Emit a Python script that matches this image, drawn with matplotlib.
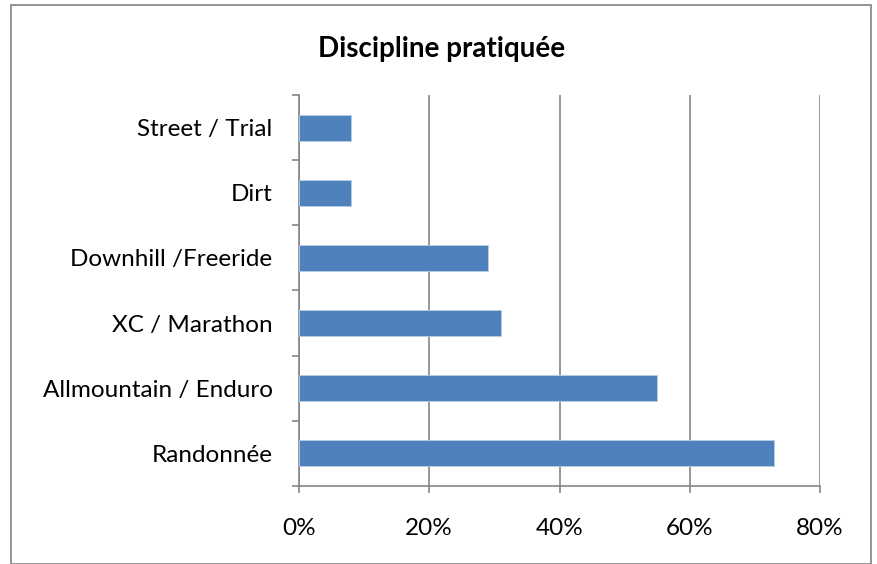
import matplotlib
matplotlib.use("Agg")
import matplotlib.pyplot as plt
from matplotlib.patches import Rectangle
import numpy as np

categories = ["Randonnée", "Allmountain / Enduro", "XC / Marathon",
              "Downhill /Freeride", "Dirt", "Street / Trial"]
values = [73, 55, 31, 29, 8, 8]
xticks = [0, 20, 40, 60, 80]
xtick_labels = ["0%", "20%", "40%", "60%", "80%"]
title = "Discipline pratiquée"

plt.rcParams['font.family'] = ['Lato', 'DejaVu Sans']

W, H = 878, 564
fig = plt.figure(figsize=(W/100, H/100), dpi=100)
fig.patch.set_facecolor("white")

# chart border
fig.add_artist(Rectangle((11/W, 0.5/H), (871-11)/W, (H-5-0.5)/H,
                         transform=fig.transFigure, fill=False,
                         edgecolor="#8c8c8c", linewidth=1.3))

ax = fig.add_axes([299/W, 1-486/H, (820-299)/W, (486-95)/H])
y = np.arange(len(categories))
ax.barh(y, values, height=0.4, color="#4F81BD", edgecolor="#b9cde5",
        linewidth=0.6, zorder=3)
ax.set_xlim(0, 80)
ax.set_ylim(-0.5, len(categories)-0.5)
ax.set_xticks(xticks)
ax.set_xticklabels(xtick_labels, fontsize=17.5)
ax.set_yticks(y)
ax.set_yticklabels(categories, fontsize=17.5)
ax.set_yticks(np.arange(-0.5, len(categories), 1), minor=True)
ax.tick_params(axis='y', which='major', length=0, pad=19)
ax.tick_params(axis='y', which='minor', length=5, width=1.2, color="#868686", direction='out')
ax.tick_params(axis='x', which='major', length=5, width=1.2, color="#868686", direction='out', pad=18)
ax.grid(axis='x', color="#868686", linewidth=1.2, zorder=0)
for s in ['top', 'right']:
    ax.spines[s].set_visible(False)
for s in ['left', 'bottom']:
    ax.spines[s].set_color("#868686")
    ax.spines[s].set_linewidth(1.2)

fig.text(442/W, 1-49/H, title, ha='center', va='center', fontsize=20,
         fontweight='bold')

fig.savefig("out.png", dpi=100)
